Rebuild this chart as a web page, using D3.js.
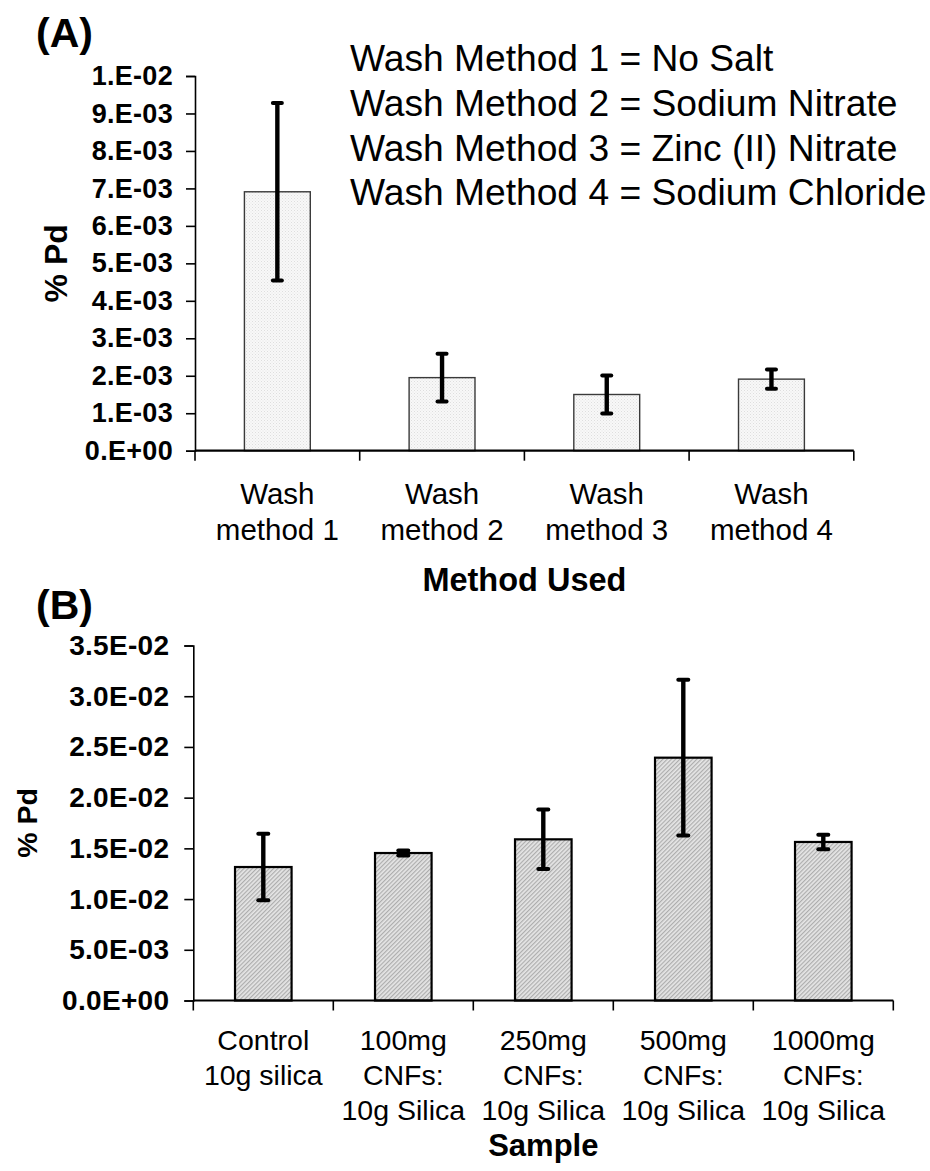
<!DOCTYPE html>
<html>
<head>
<meta charset="utf-8">
<script src="https://cdn.jsdelivr.net/npm/d3@7"></script>
<style>
  html, body { margin: 0; padding: 0; background: #fff; }
  svg { display: block; font-family: "Liberation Sans", Arial, sans-serif; }
</style>
</head>
<body>
<svg id="fig" width="930" height="1171"></svg>
<script>
// Panel A: Pd content after different wash methods
const washLabels = [["Wash", "method 1"], ["Wash", "method 2"], ["Wash", "method 3"], ["Wash", "method 4"]];
const washMeans = [6.91e-3, 1.95e-3, 1.50e-3, 1.91e-3];
const washErrors = [2.37e-3, 0.64e-3, 0.51e-3, 0.26e-3];
const washTicks = [0, 1e-3, 2e-3, 3e-3, 4e-3, 5e-3, 6e-3, 7e-3, 8e-3, 9e-3, 1e-2];
const washTickLabels = ["0.E+00", "1.E-03", "2.E-03", "3.E-03", "4.E-03", "5.E-03", "6.E-03", "7.E-03", "8.E-03", "9.E-03", "1.E-02"];
const washKey = [
  "Wash Method 1 = No Salt",
  "Wash Method 2 = Sodium Nitrate",
  "Wash Method 3 = Zinc (II) Nitrate",
  "Wash Method 4 = Sodium Chloride"
];

// Panel B: Pd content for different CNF loadings
const sampleLabels = [
  ["Control", "10g silica"],
  ["100mg", "CNFs:", "10g Silica"],
  ["250mg", "CNFs:", "10g Silica"],
  ["500mg", "CNFs:", "10g Silica"],
  ["1000mg", "CNFs:", "10g Silica"]
];
const sampleMeans = [13.16e-3, 14.54e-3, 15.89e-3, 23.94e-3, 15.63e-3];
const sampleErrors = [3.27e-3, 0.25e-3, 2.93e-3, 7.68e-3, 0.72e-3];
const sampleTicks = [0, 5e-3, 10e-3, 15e-3, 20e-3, 25e-3, 30e-3, 35e-3];
const sampleTickLabels = ["0.0E+00", "5.0E-03", "1.0E-02", "1.5E-02", "2.0E-02", "2.5E-02", "3.0E-02", "3.5E-02"];

const svg = d3.select("#fig");
const defs = svg.append("defs");

// fine dotted fill for panel A bars
const dots = defs.append("pattern")
  .attr("id", "dots").attr("patternUnits", "userSpaceOnUse")
  .attr("width", 3).attr("height", 3);
dots.append("rect").attr("width", 3).attr("height", 3).attr("fill", "#f8f8f8");
dots.append("rect").attr("x", 0).attr("y", 0).attr("width", 1).attr("height", 1).attr("fill", "#dedede");
dots.append("rect").attr("x", 1.5).attr("y", 1.5).attr("width", 1).attr("height", 1).attr("fill", "#e6e6e6");

// diagonal hatch for panel B bars
const hatch = defs.append("pattern")
  .attr("id", "hatch").attr("patternUnits", "userSpaceOnUse")
  .attr("width", 3).attr("height", 3)
  .attr("patternTransform", "rotate(45)");
hatch.append("rect").attr("width", 3).attr("height", 3).attr("fill", "#e6e6e6");
hatch.append("rect").attr("width", 1.2).attr("height", 3).attr("fill", "#adadad");

function panel(opts) {
  const g = svg.append("g");
  const x = d3.scaleBand().domain(d3.range(opts.means.length))
    .range(opts.xRange).paddingInner(opts.pad).paddingOuter(opts.pad / 2);
  const y = d3.scaleLinear().domain(opts.yDomain).range(opts.yRange);

  // y axis
  const yAxis = d3.axisLeft(y).tickValues(opts.ticks)
    .tickFormat((d, i) => opts.tickLabels[i]).tickSize(9).tickPadding(opts.tickPad);
  const ya = g.append("g").attr("transform", `translate(${opts.xRange[0]},0)`).call(yAxis);
  ya.select(".domain").attr("stroke", "#000").attr("stroke-width", 1.6);
  ya.selectAll(".tick line").attr("stroke", "#000").attr("stroke-width", 1.6);
  ya.selectAll(".tick text")
    .attr("fill", "#000")
    .style("font-size", opts.tickFont + "px")
    .style("font-weight", "bold")
    .style("letter-spacing", opts.tickSpacing + "px")
    .style("font-family", '"Liberation Sans", Arial, sans-serif');

  // bars
  g.selectAll("rect.bar").data(opts.means).enter().append("rect")
    .attr("class", "bar")
    .attr("x", (d, i) => x(i))
    .attr("width", x.bandwidth())
    .attr("y", d => y(d))
    .attr("height", d => y(0) - y(d))
    .attr("fill", opts.fill)
    .attr("stroke", opts.barStroke)
    .attr("stroke-width", opts.barStrokeWidth);

  // x axis with ticks at category boundaries
  const step = x.step();
  const bounds = d3.range(opts.means.length + 1).map(i => opts.xRange[0] + i * step);
  g.append("line")
    .attr("x1", opts.xRange[0]).attr("x2", opts.xRange[1])
    .attr("y1", y(0)).attr("y2", y(0))
    .attr("stroke", "#000").attr("stroke-width", 2.2);
  g.selectAll("line.xt").data(bounds).enter().append("line")
    .attr("x1", d => d).attr("x2", d => d)
    .attr("y1", y(0)).attr("y2", y(0) + 10)
    .attr("stroke", "#000").attr("stroke-width", 1.6);

  // error bars
  const cx = i => x(i) + x.bandwidth() / 2;
  const eb = g.selectAll("g.err").data(opts.means).enter().append("g")
    .attr("stroke", "#000").attr("stroke-linecap", "round");
  eb.append("line")
    .attr("x1", (d, i) => cx(i)).attr("x2", (d, i) => cx(i))
    .attr("y1", (d, i) => y(d + opts.errors[i])).attr("y2", (d, i) => y(d - opts.errors[i]))
    .attr("stroke-width", 4.4).attr("stroke-linecap", "butt");
  [1, -1].forEach(s => {
    eb.append("line")
      .attr("x1", (d, i) => cx(i) - opts.cap).attr("x2", (d, i) => cx(i) + opts.cap)
      .attr("y1", (d, i) => y(d + s * opts.errors[i])).attr("y2", (d, i) => y(d + s * opts.errors[i]))
      .attr("stroke-width", 4);
  });

  // category labels
  opts.labels.forEach((lines, i) => {
    const t = g.append("text")
      .attr("x", cx(i)).attr("y", opts.labelY)
      .attr("text-anchor", "middle")
      .style("font-size", opts.labelFont + "px");
    lines.forEach((ln, k) => {
      t.append("tspan").attr("x", cx(i)).attr("dy", k === 0 ? 0 : opts.labelLine).text(ln);
    });
  });

  // axis titles
  g.append("text")
    .attr("x", (opts.xRange[0] + opts.xRange[1]) / 2).attr("y", opts.xTitleY)
    .attr("text-anchor", "middle")
    .style("font-size", opts.xTitleFont + "px").style("font-weight", "bold")
    .text(opts.xTitle);
  g.append("text")
    .attr("transform", `translate(${opts.yTitleX},${(opts.yRange[0] + opts.yRange[1]) / 2}) rotate(-90)`)
    .attr("text-anchor", "middle")
    .style("font-size", opts.yTitleFont + "px").style("font-weight", "bold")
    .text("% Pd");

  // panel letter
  g.append("text")
    .attr("x", 36).attr("y", opts.letterY)
    .style("font-size", "41px").style("font-weight", "bold")
    .text(opts.letter);
  return g;
}

const gA = panel({
  letter: "(A)", letterY: 47,
  means: washMeans, errors: washErrors, labels: washLabels,
  ticks: washTicks, tickLabels: washTickLabels,
  xRange: [195, 853.8], pad: 0.6,
  yDomain: [0, 0.01], yRange: [450.7, 76],
  tickFont: 27, tickSpacing: 0.3, tickPad: 13,
  fill: "url(#dots)", barStroke: "#3a3a3a", barStrokeWidth: 1.4,
  cap: 4.5,
  labelY: 504, labelLine: 36, labelFont: 29.5,
  xTitle: "Method Used", xTitleY: 591, xTitleFont: 32.5,
  yTitleX: 67, yTitleFont: 32
});

// key of wash methods
gA.append("text")
  .attr("x", 350).attr("y", 71)
  .style("font-size", "37.2px")
  .selectAll("tspan").data(washKey).enter().append("tspan")
  .attr("x", 350).attr("dy", (d, i) => i === 0 ? 0 : 44.8)
  .text(d => d);

panel({
  letter: "(B)", letterY: 619,
  means: sampleMeans, errors: sampleErrors, labels: sampleLabels,
  ticks: sampleTicks, tickLabels: sampleTickLabels,
  xRange: [193.3, 893.3], pad: 0.596,
  yDomain: [0, 0.035], yRange: [1000.5, 645.5],
  tickFont: 28, tickSpacing: 0.3, tickPad: 15,
  fill: "url(#hatch)", barStroke: "#000", barStrokeWidth: 2.2,
  cap: 5,
  labelY: 1050, labelLine: 35, labelFont: 28.5,
  xTitle: "Sample", xTitleY: 1156, xTitleFont: 31,
  yTitleX: 37, yTitleFont: 28.5
});
</script>
</body>
</html>
